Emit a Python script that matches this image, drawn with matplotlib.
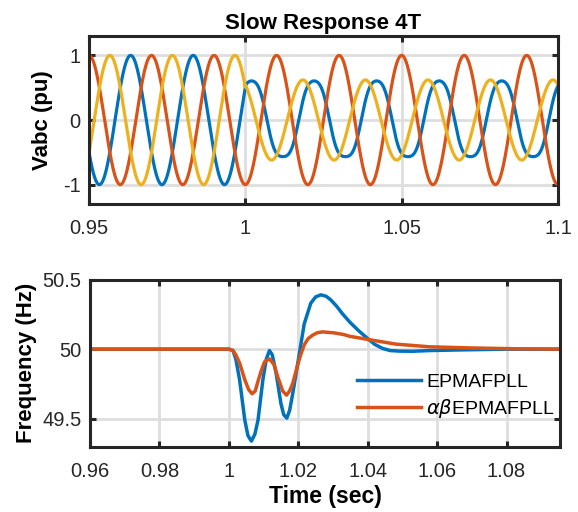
import numpy as np
import matplotlib
matplotlib.use("Agg")
import matplotlib.pyplot as plt

plt.rcParams.update({
    "font.family": ["Liberation Sans", "DejaVu Sans"],
    "mathtext.fontset": "dejavusans",
    "axes.unicode_minus": False,
    "axes.edgecolor": "#262626",
    "xtick.color": "#262626", "ytick.color": "#262626",
})

# ---- top panel: three phase voltages (pu), 50 Hz, sag at t = 1 s ----
F_GRID = 50.0
T_STEP = 1.0
PHASE_COLORS = ["#0072BD", "#D95319", "#EDB120"]
PRE_AMP = [1.0, 1.0, 1.0]
PRE_PEAK_T = [0.98333, 0.99, 0.99667]      # time of a positive peak before the event
POST_AMP = [0.63, 1.0, 0.62]
POST_PEAK_T = [1.002, 0.99, 1.0184]        # time of a positive peak after the event
POST_H2 = [0.03, 0.0, 0.0]                 # harmonic content seen on phase a after the sag
POST_H3 = [-0.07, 0.0, 0.0]
V_XTICKS = [0.95, 1.0, 1.05, 1.1]
V_XTICKLABELS = ["0.95", "1", "1.05", "1.1"]
V_YTICKS = [-1, 0, 1]

# ---- bottom panel: estimated frequency (Hz) ----
T_EPMA = [0.96, 1.0, 1.0012, 1.002, 1.0031, 1.0046, 1.0055, 1.0065, 1.0075, 1.0084,
          1.0098, 1.0108, 1.0117, 1.0125, 1.0136, 1.0150, 1.0158, 1.0167, 1.0175,
          1.0184, 1.0200, 1.0217, 1.0236, 1.0250, 1.0265, 1.0280, 1.0293, 1.0310,
          1.0327, 1.0350, 1.0375, 1.0400, 1.0420, 1.0443, 1.0465, 1.0492, 1.0530,
          1.0578, 1.0675, 1.0800, 1.0955]
F_EPMA = [50.0, 50.0, 49.99, 49.93, 49.78, 49.49, 49.38, 49.34, 49.39, 49.49,
          49.78, 49.93, 49.99, 49.96, 49.83, 49.61, 49.53, 49.505, 49.56,
          49.68, 49.92, 50.18, 50.33, 50.375, 50.39, 50.38, 50.355, 50.31,
          50.255, 50.19, 50.13, 50.076, 50.035, 50.005, 49.99, 49.986, 49.985,
          49.99, 49.995, 50.0, 50.0]
T_AB = [0.96, 1.0, 1.0012, 1.002, 1.0031, 1.0046, 1.0057, 1.0067, 1.0076, 1.0084,
        1.0094, 1.0103, 1.0117, 1.0130, 1.0141, 1.0155, 1.0166, 1.0175, 1.0184,
        1.0191, 1.0198, 1.0207, 1.0217, 1.0228, 1.0241, 1.0255, 1.0270, 1.0289,
        1.0303, 1.0331, 1.0347, 1.0400, 1.0482, 1.0578, 1.0694, 1.0820, 1.0955]
F_AB = [50.0, 50.0, 49.99, 49.96, 49.90, 49.78, 49.71, 49.68, 49.70, 49.77,
        49.85, 49.91, 49.93, 49.89, 49.80, 49.70, 49.67, 49.70, 49.755,
        49.82, 49.885, 49.96, 50.03, 50.075, 50.10, 50.118, 50.124, 50.12,
        50.117, 50.105, 50.093, 50.07, 50.036, 50.017, 50.009, 50.003, 50.0]
LEGEND_LABELS = ["EPMAFPLL", r"$\alpha\beta$EPMAFPLL"]
F_XTICKS = [0.96, 0.98, 1.0, 1.02, 1.04, 1.06, 1.08]
F_XTICKLABELS = ["0.96", "0.98", "1", "1.02", "1.04", "1.06", "1.08"]
F_YTICKS = [49.5, 50, 50.5]
F_YTICKLABELS = ["49.5", "50", "50.5"]


def phase_wave(t, i):
    w = 2 * np.pi * F_GRID
    pre = PRE_AMP[i] * np.cos(w * (t - PRE_PEAK_T[i]))
    th = w * (t - POST_PEAK_T[i])
    post = POST_AMP[i] * (np.cos(th) + POST_H2[i] * np.cos(2 * th) + POST_H3[i] * np.cos(3 * th))
    return np.where(t < T_STEP, pre, post)


def style(ax):
    for s in ax.spines.values():
        s.set_linewidth(2.2)
    ax.tick_params(direction="in", length=4, width=2.2, top=True, right=True,
                   labelsize=14.5, labelcolor="#262626")
    ax.tick_params(axis="x", pad=11)
    ax.tick_params(axis="y", pad=6)
    ax.grid(True, color="#dedede", linewidth=2.0)
    ax.set_axisbelow(True)


fig = plt.figure(figsize=(5.78, 5.12), dpi=100)
ax1 = fig.add_axes([89/578, 1 - 204/512, 469/578, 168/512])
ax2 = fig.add_axes([90/578, 1 - 446.7/512, 470/578, 167.2/512])

t = np.linspace(0.95, 1.1, 4000)
for i, c in enumerate(PHASE_COLORS):
    ax1.plot(t, phase_wave(t, i), color=c, linewidth=2.3)
ax1.set_xlim(0.95, 1.1)
ax1.set_ylim(-1.3, 1.3)
ax1.set_xticks(V_XTICKS)
ax1.set_xticklabels(V_XTICKLABELS)
ax1.set_yticks(V_YTICKS)
style(ax1)
ax1.set_title("Slow Response 4T", fontsize=16, fontweight="bold", pad=5)
ax1.set_ylabel("Vabc (pu)", fontsize=16, fontweight="bold")
ax1.yaxis.set_label_coords(-0.077, 0.5)

ax2.plot(T_EPMA, F_EPMA, color=PHASE_COLORS[0], linewidth=2.5, label=LEGEND_LABELS[0])
ax2.plot(T_AB, F_AB, color=PHASE_COLORS[1], linewidth=2.5, label=LEGEND_LABELS[1])
ax2.set_xlim(0.96, 1.0954)
ax2.set_ylim(49.3, 50.5)
ax2.set_xticks(F_XTICKS)
ax2.set_xticklabels(F_XTICKLABELS)
ax2.set_yticks(F_YTICKS)
ax2.set_yticklabels(F_YTICKLABELS)
style(ax2)
ax2.set_xlabel("Time (sec)", fontsize=16.5, fontweight="bold", labelpad=3)
ax2.set_ylabel("Frequency (Hz)", fontsize=16, fontweight="bold")
ax2.yaxis.set_label_coords(-0.112, 0.5)
ax2.legend(loc="upper left", bbox_to_anchor=(0.568, 0.437), frameon=False,
           fontsize=14, handlelength=3.3, handletextpad=0.25, labelspacing=0.3,
           borderpad=0, borderaxespad=0)

fig.savefig("out.png", dpi=100)
